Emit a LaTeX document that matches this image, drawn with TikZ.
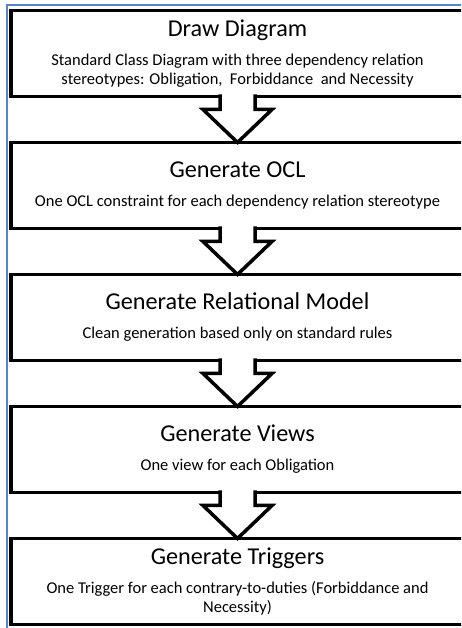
\documentclass[tikz,border=0pt]{standalone}
\usepackage{fontspec}
\setmainfont{Carlito}
\usetikzlibrary{calc}
\definecolor{frameblue}{RGB}{88,132,198}
\newcommand{\Stage}[2]{{\fontsize{24.2}{29}\selectfont #1}\\[10pt]#2}
\newcommand{\Flow}[2]{\draw[flow] ($(#1.south)+(-17.5,2)$) -- ++(0,-15) -- ++(-17,0) -- (#2.north) -- ++(34.5,33) -- ++(-17,0) -- ++(0,15);}

\begin{document}
\begin{tikzpicture}[x=1pt, y=1pt,
    stepbox/.style={draw, line width=3.5pt, fill=white, minimum width=453pt, minimum height=86pt,
        inner sep=0pt, outer sep=0pt, text width=440pt, align=flush center,
        font=\fontsize{16.5}{19}\selectfont},
    flow/.style={draw, line width=3.5pt, fill=white, line join=miter},
    frame/.style={draw=frameblue, line width=1.5pt}]

            \clip (0,0) rectangle (461,628);
            \draw[frame] (7,-5) -- (7,623) -- (470,623);

            \draw(237.5,574.5) node[stepbox] (diagram) {\Stage{Draw Diagram}{Standard Class Diagram with three dependency relation\\ stereotypes: Obligation,\ \ Forbiddance\ \ and Necessity}};
            \draw(237.5,442.5) node[stepbox] (ocl) {\Stage{Generate OCL}{One OCL constraint for each dependency relation stereotype}};
            \draw(237.5,310.5) node[stepbox] (relational) {\Stage{Generate Relational Model}{Clean generation based only on standard rules}};
            \draw(237.5,178.5) node[stepbox] (views) {\Stage{Generate Views}{One view for each Obligation}};
            \draw(237.5,46.5) node[stepbox] (triggers) {\Stage{Generate Triggers}{One Trigger for each contrary-to-duties (Forbiddance and\\ Necessity)}};

            \Flow{diagram}{ocl}
            \Flow{ocl}{relational}
            \Flow{relational}{views}
            \Flow{views}{triggers}

        \end{tikzpicture}
\end{document}
